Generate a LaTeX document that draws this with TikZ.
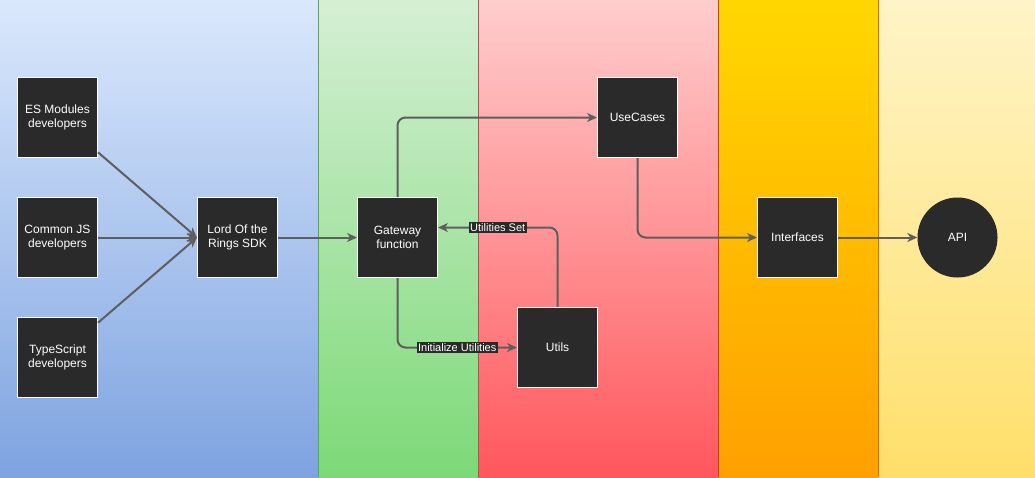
\documentclass[tikz,border=0pt]{standalone}
\usepackage{fontspec}
\setmainfont{Liberation Sans}
\usetikzlibrary{arrows.meta, positioning, shapes}

\definecolor{boxdark}{HTML}{2A2A2A}
\definecolor{linkgray}{HTML}{5E5E5E}
\definecolor{blueTop}{HTML}{DAE8FC}
\definecolor{blueBot}{HTML}{7EA3E0}
\definecolor{greenTop}{HTML}{D5EFD4}
\definecolor{greenBot}{HTML}{7CD977}
\definecolor{redTop}{HTML}{FFCDCD}
\definecolor{redBot}{HTML}{FF575C}
\definecolor{orangeTop}{HTML}{FFD700}
\definecolor{orangeBot}{HTML}{FFA000}
\definecolor{yellowTop}{HTML}{FFF4C8}
\definecolor{yellowBot}{HTML}{FFDF6A}

\begin{document}
\begin{tikzpicture}[%
        x=1pt, y=-1pt,
        >={Stealth[length=10pt,width=9pt,inset=3pt]},
        every node/.style={font=\fontsize{12}{14}\selectfont},
        box/.style={rectangle, draw=white, line width=1pt, fill=boxdark,
            text=white, minimum size=80pt, inner sep=2pt, align=center},
        link/.style={->, draw=linkgray, line width=2pt},
        tag/.style={fill=boxdark, text=white, inner sep=1.5pt, sharp corners,
            font=\fontsize{11}{12}\selectfont},
        border/.style={line width=0.8pt}
    ]
    \useasboundingbox (0,0) rectangle (1035,477);

    % --- Lanes ---
    \shade[top color=blueTop, bottom color=blueBot] (0,0) rectangle (318,477);
    \shade[top color=greenTop, bottom color=greenBot] (318,0) rectangle (478,477);
    \shade[top color=redTop, bottom color=redBot] (478,0) rectangle (718,477);
    \shade[top color=orangeTop, bottom color=orangeBot] (718,0) rectangle (878,477);
    \shade[top color=yellowTop, bottom color=yellowBot] (878,0) rectangle (1035,477);
    \draw[border, draw=green!30!gray] (318,0) -- (318,477);
    \draw[border, draw=red!35!gray] (478,0) -- (478,477);
    \draw[border, draw=red!55!gray] (718,0) -- (718,477);
    \draw[border, draw=orange!85!black] (878,0) -- (878,477);

    % --- Consumers ---
    \node[box] (es) at (57.5,117.5) {ES Modules\\developers};
    \node[box] (cjs) at (57.5,237.5) {Common JS\\developers};
    \node[box] (ts) at (57.5,357.5) {TypeScript\\developers};

    % --- SDK ---
    \node[box] (lord) at (237.5,237.5) {Lord Of the\\Rings SDK};
    \node[box] (gate) at (397.5,237.5) {Gateway\\function};
    \node[box] (uses) at (637.5,117.5) {UseCases};
    \node[box] (utils) at (557.5,347.5) {Utils};
    \node[box] (ifaces) at (797.5,237.5) {Interfaces};
    \node[circle, fill=boxdark, text=white, minimum size=80pt, inner sep=0pt] (api) at (957.5,237.5) {API};

    % --- Links ---
    \draw[link] (es) -- (lord.west);
    \draw[link] (cjs) -- (lord);
    \draw[link] (ts) -- (lord.west);
    \draw[link] (lord) -- (gate);
    \draw[link, rounded corners=8pt] (gate) |- (uses);
    \draw[link, rounded corners=8pt] (uses) |- (ifaces);
    \draw[link] (ifaces) -- (api);
    \draw[link, rounded corners=8pt] (utils.north) |- node[tag, pos=0.75] {Utilities Set} ([yshift=10pt]gate.east);
    \draw[link, rounded corners=8pt] (gate) |- node[tag, pos=0.75] {Initialize Utilities} (utils);
\end{tikzpicture}
\end{document}
